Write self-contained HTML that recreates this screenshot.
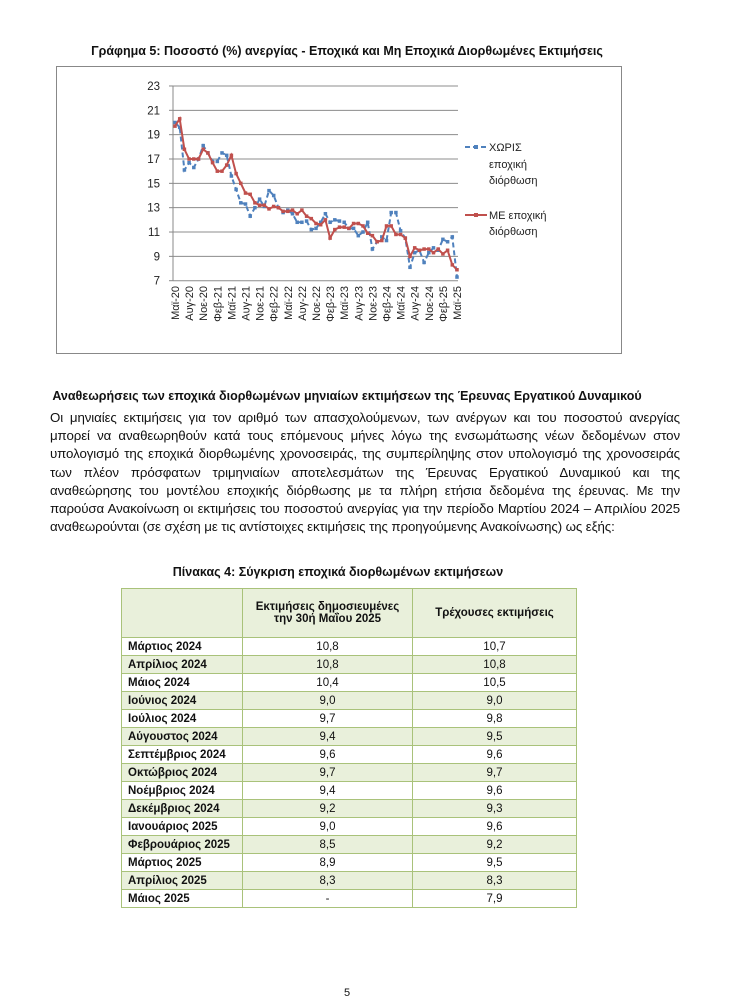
<!DOCTYPE html>
<html><head><meta charset="utf-8"><style>
body{margin:0;background:#fff;font-family:"Liberation Sans","DejaVu Sans",sans-serif;color:#111}
.p{position:absolute}
#wrap{position:relative;width:729px;height:1000px;overflow:hidden}
.para{position:absolute;left:50px;width:630px;font-size:13.3px;line-height:18.2px;text-align:justify;top:409px;letter-spacing:-0.1px}
table{position:absolute;left:121px;top:588px;width:456px;border-collapse:collapse;font-size:11.5px}
td{border:1px solid #a9c27a;height:17px;padding:0 6px;text-align:center}
td:first-child{text-align:left;font-weight:bold;width:108px}
tr.g td{background:#e9f0db}
tr.h td{background:#e9f0db;height:48px}
</style></head><body><div id="wrap">
<div class="p" style="left:0;width:694px;top:44px;text-align:center;font-weight:bold;font-size:12.5px">Γράφημα 5: Ποσοστό (%) ανεργίας - Εποχικά και Μη Εποχικά Διορθωμένες Εκτιμήσεις</div>
<svg class="p" style="left:0;top:0" width="729" height="360" id="ch"></svg>
<div class="p" style="left:0;width:694px;top:389px;text-align:center;font-weight:bold;font-size:12.5px">Αναθεωρήσεις των εποχικά διορθωμένων μηνιαίων εκτιμήσεων της Έρευνας Εργατικού Δυναμικού</div>
<div class="para">Οι μηνιαίες εκτιμήσεις για τον αριθμό των απασχολούμενων, των ανέργων και του ποσοστού ανεργίας μπορεί να αναθεωρηθούν κατά τους επόμενους μήνες λόγω της ενσωμάτωσης νέων δεδομένων στον υπολογισμό της εποχικά διορθωμένης χρονοσειράς, της συμπερίληψης στον υπολογισμό της χρονοσειράς των πλέον πρόσφατων τριμηνιαίων αποτελεσμάτων της Έρευνας Εργατικού Δυναμικού και της αναθεώρησης του μοντέλου εποχικής διόρθωσης με τα πλήρη ετήσια δεδομένα της έρευνας. Με την παρούσα Ανακοίνωση οι εκτιμήσεις του ποσοστού ανεργίας για την περίοδο Μαρτίου 2024 – Απριλίου 2025 αναθεωρούνται (σε σχέση με τις αντίστοιχες εκτιμήσεις της προηγούμενης Ανακοίνωσης) ως εξής:</div>
<div class="p" style="left:0;width:676px;top:565px;text-align:center;font-weight:bold;font-size:12.5px">Πίνακας 4: Σύγκριση εποχικά διορθωμένων εκτιμήσεων</div>
<table>
<tr class="h"><td></td><td style="width:157px;font-weight:bold">Εκτιμήσεις δημοσιευμένες<br>την 30ή Μαΐου 2025</td><td style="font-weight:bold">Τρέχουσες εκτιμήσεις</td></tr>
<tr><td>Μάρτιος 2024</td><td>10,8</td><td>10,7</td></tr>
<tr class="g"><td>Απρίλιος 2024</td><td>10,8</td><td>10,8</td></tr>
<tr><td>Μάιος 2024</td><td>10,4</td><td>10,5</td></tr>
<tr class="g"><td>Ιούνιος 2024</td><td>9,0</td><td>9,0</td></tr>
<tr><td>Ιούλιος 2024</td><td>9,7</td><td>9,8</td></tr>
<tr class="g"><td>Αύγουστος 2024</td><td>9,4</td><td>9,5</td></tr>
<tr><td>Σεπτέμβριος 2024</td><td>9,6</td><td>9,6</td></tr>
<tr class="g"><td>Οκτώβριος 2024</td><td>9,7</td><td>9,7</td></tr>
<tr><td>Νοέμβριος 2024</td><td>9,4</td><td>9,6</td></tr>
<tr class="g"><td>Δεκέμβριος 2024</td><td>9,2</td><td>9,3</td></tr>
<tr><td>Ιανουάριος 2025</td><td>9,0</td><td>9,6</td></tr>
<tr class="g"><td>Φεβρουάριος 2025</td><td>8,5</td><td>9,2</td></tr>
<tr><td>Μάρτιος 2025</td><td>8,9</td><td>9,5</td></tr>
<tr class="g"><td>Απρίλιος 2025</td><td>8,3</td><td>8,3</td></tr>
<tr><td>Μάιος 2025</td><td>-</td><td>7,9</td></tr>
</table>
<div class="p" style="left:344px;top:987px;font-size:11px">5</div>
</div>
<script>
var red=[19.7,20.3,17.8,17.0,17.0,17.0,17.8,17.5,16.7,16.0,16.0,16.5,17.3,15.8,15.0,14.2,14.1,13.4,13.2,13.2,12.9,13.1,13.0,12.7,12.7,12.8,12.5,12.8,12.3,12.1,11.7,11.6,12.0,10.5,11.2,11.4,11.4,11.3,11.7,11.7,11.5,10.9,10.7,10.2,10.3,11.5,11.5,10.8,10.8,10.5,9.0,9.7,9.5,9.6,9.6,9.3,9.6,9.2,9.5,8.3,7.9];
var blue=[20.0,19.6,16.1,16.7,16.3,17.0,18.1,17.5,16.8,16.8,17.5,17.3,15.6,14.5,13.4,13.3,12.3,13.0,13.7,13.1,14.4,14.0,13.0,12.6,12.8,12.5,11.8,11.8,11.9,11.2,11.3,11.8,12.5,11.8,12.0,11.9,11.8,11.3,11.3,10.7,11.0,11.8,9.6,10.2,10.6,10.3,12.6,12.6,11.1,10.5,8.1,9.3,9.5,8.5,9.3,9.7,9.5,10.4,10.2,10.6,7.3];
var X=function(i){return 175+i*4.7},Y=function(v){return 280.7-(v-7)*12.17};
var s='<rect x="56.5" y="66.5" width="565" height="287" fill="none" stroke="#888"/>';
for(var v=7;v<=23;v+=2){var y=Y(v);s+='<line x1="173" x2="458" y1="'+y+'" y2="'+y+'" stroke="#8c8c8c"/><line x1="169" x2="173" y1="'+y+'" y2="'+y+'" stroke="#888"/><text x="160" y="'+(y+4)+'" font-size="11.5" text-anchor="end" fill="#222">'+v+'</text>';}
s+='<line x1="173" x2="173" y1="86" y2="281" stroke="#888"/>';
var lb=['Μαϊ-20','Αυγ-20','Νοε-20','Φεβ-21','Μαϊ-21','Αυγ-21','Νοε-21','Φεβ-22','Μαϊ-22','Αυγ-22','Νοε-22','Φεβ-23','Μαϊ-23','Αυγ-23','Νοε-23','Φεβ-24','Μαϊ-24','Αυγ-24','Νοε-24','Φεβ-25','Μαϊ-25'];
for(var k=0;k<21;k++){var x=X(k*3)+4;s+='<text transform="translate('+x+',286) rotate(-90)" font-size="11" text-anchor="end" fill="#222">'+lb[k]+'</text>';}
function pl(d,c,da,m){var p=d.map(function(v,i){return X(i).toFixed(1)+','+Y(v).toFixed(1)}).join(' ');var o='<polyline points="'+p+'" fill="none" stroke="'+c+'" stroke-width="2" '+(da?'stroke-dasharray="5,3"':'')+'/>';d.forEach(function(v,i){o+='<rect x="'+(X(i)-m/2)+'" y="'+(Y(v)-m/2)+'" width="'+m+'" height="'+m+'" fill="'+c+'"/>'});return o;}
s+=pl(blue,'#4f81bd',1,3.5)+pl(red,'#c0504d',0,3.5);
s+='<line x1="465" x2="487" y1="147" y2="147" stroke="#4f81bd" stroke-width="2" stroke-dasharray="5,3"/><rect x="474" y="145" width="4" height="4" fill="#4f81bd"/>';
s+='<text font-size="11" fill="#222"><tspan x="489" y="151">ΧΩΡΙΣ</tspan><tspan x="489" y="168">εποχική</tspan><tspan x="489" y="184">διόρθωση</tspan></text>';
s+='<line x1="465" x2="487" y1="215" y2="215" stroke="#c0504d" stroke-width="2"/><rect x="474" y="213" width="4" height="4" fill="#c0504d"/>';
s+='<text font-size="11" fill="#222"><tspan x="489" y="219">ΜΕ εποχική</tspan><tspan x="489" y="235">διόρθωση</tspan></text>';
document.getElementById('ch').innerHTML=s;
</script>
</body></html>
